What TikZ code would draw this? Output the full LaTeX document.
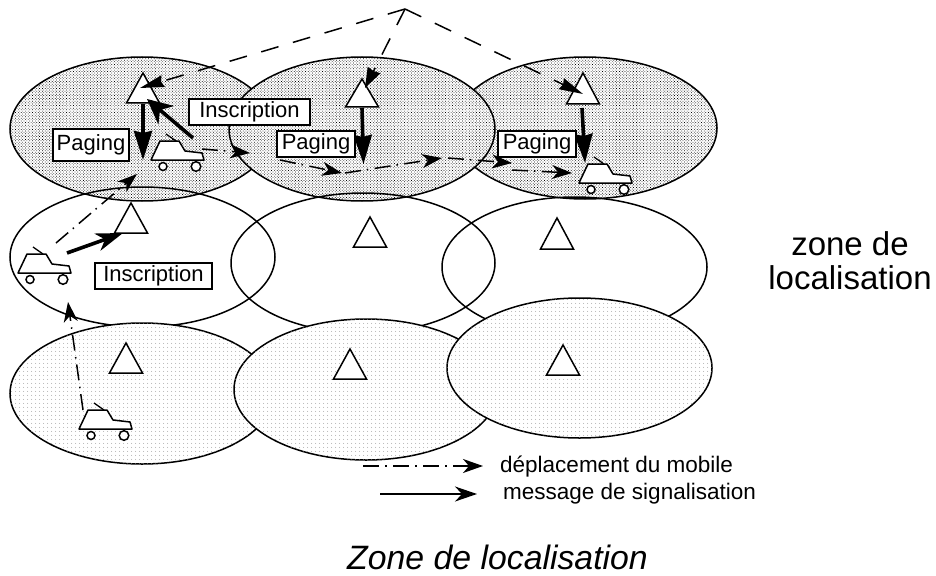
\documentclass[tikz,border=0pt]{standalone}
\usepackage{fontspec}
\setmainfont{Liberation Sans}
\usetikzlibrary{arrows.meta,patterns.meta}
\tikzset{
  cell/.style={draw=black,line width=1.5pt},
  heavyzone/.style={cell,fill=white,postaction={pattern={Dots[distance=2pt,radius=0.5pt,angle=45]},pattern color=black}},
  lightzone/.style={cell,fill=white,postaction={pattern={Dots[distance=4pt,radius=0.5pt]},pattern color=black!45}},
  antenna/.style={draw=black,line width=1.5pt,fill=white,line join=miter},
  labelbox/.style={draw=black,line width=1.5pt,fill=white,inner sep=0pt,font=\fontsize{22}{24}\selectfont,anchor=center},
  signal/.style={line width=3.6pt,-{Stealth[length=29pt,width=18pt,inset=2pt]}},
  signalbarbed/.style={line width=3.6pt,-{Stealth[length=25pt,width=24pt,inset=8pt]}},
  signalnarrow/.style={line width=3.6pt,-{Stealth[length=27pt,width=18pt,inset=8pt]}},
  move/.style={line width=1.5pt,dash pattern=on 16pt off 6pt on 1.5pt off 6.5pt,-{Stealth[length=20pt,width=14pt,inset=6pt]}},
  page/.style={line width=1.5pt,dash pattern=on 18pt off 15pt},
  legendtext/.style={anchor=base west,inner sep=0pt,font=\fontsize{22.5}{24}\selectfont},
  car/.pic={
    \draw[line width=1.5pt,fill=white,line join=round] (0,0)--(9,-19)--(28,-19)--(34,-9)--(51,-7)--(53,0)--cycle;
    \draw[line width=1.3pt] (15,-26)--(25,-19);
    \draw[line width=1.5pt,fill=white] (12,6.5) circle (4) (45,6.5) circle (4.8);
  }
}
\newcommand{\mast}[3]{\draw[antenna] (#1,#2)--(#1-16.5,#2+#3)--(#1+16.5,#2+#3)--cycle;}
\begin{document}
\begin{tikzpicture}[x=1pt,y=-1pt]
\useasboundingbox (0,0) rectangle (936,575);
% top row
\draw[heavyzone] (142,129) ellipse [x radius=132,y radius=72];
\draw[heavyzone] (585,128) ellipse [x radius=132,y radius=71];
\draw[heavyzone] (362,129) ellipse [x radius=133,y radius=72];
% middle row
\draw[cell] (142.5,257) ellipse [x radius=132.5,y radius=70];
\draw[cell] (363,263) ellipse [x radius=132,y radius=70];
\draw[cell] (574.5,267) ellipse [x radius=132.5,y radius=70];
% bottom row
\draw[lightzone] (142,393.5) ellipse [x radius=132,y radius=70.5];
\draw[lightzone] (366,389.5) ellipse [x radius=132,y radius=70.5];
\draw[lightzone] (579.5,368) ellipse [x radius=132.5,y radius=70];
% antennas
\mast{143}{73}{30}
\mast{362}{79}{28}
\mast{583}{73}{31}
\mast{131}{203}{30}
\mast{370}{217}{30}
\mast{557}{218}{31}
\mast{126}{343}{30}
\mast{350}{349}{30}
\mast{563}{345}{30}
% mobiles
\pic at (151,160) {car};
\pic at (579,183) {car};
\pic at (18,273) {car};
\pic at (79,429) {car};
% named ends
\coordinate (hub) at (405,9);
\coordinate (a1) at (140,88);
\coordinate (a2) at (365,88);
\coordinate (a3) at (583,94);
% paging broadcast
\draw[page,-{Stealth[length=24pt,width=12pt,inset=2pt]}] (hub)--(a1);
\draw[page,-{Stealth[length=20pt,width=14pt,inset=1pt]}] (hub)--(a2);
\draw[page,-{Stealth[length=24pt,width=12pt,inset=2pt]}] (hub)--(a3);
% signalling
\coordinate (s1) at (143,104);
\coordinate (s2) at (143,160);
\coordinate (s3) at (362,108);
\coordinate (s4) at (363.5,164);
\coordinate (s5) at (582,108);
\coordinate (s6) at (585,163);
\coordinate (s7) at (193,138);
\coordinate (s8) at (147,99);
\coordinate (s9) at (67,253);
\coordinate (s10) at (123,233);
\draw[signal] (s1)--(s2);
\draw[signal] (s3)--(s4);
\draw[signal] (s5)--(s6);
\draw[signalbarbed] (s7)--(s8);
\draw[signalnarrow] (s9)--(s10);
% mobile movement
\coordinate (m1) at (202,149);
\coordinate (m2) at (250,153);
\coordinate (m2b) at (280,160);
\coordinate (m3) at (342,173);
\coordinate (m3b) at (345,173);
\coordinate (m4) at (442,158);
\coordinate (m4b) at (448,158);
\coordinate (m5) at (512,163);
\coordinate (m6) at (512,170);
\coordinate (m7) at (572,173);
\coordinate (n1) at (83,410);
\coordinate (n2) at (68,302);
\coordinate (n3) at (56,243);
\coordinate (n4) at (137,174);
\draw[move] (n1)--(n2);
\draw[move] (n3)--(n4);
\draw[move] (m1)--(m2);
\draw[move] (m2b)--(m3);
\draw[move] (m3b)--(m4);
\draw[move] (m4b)--(m5);
\draw[move] (m6)--(m7);
% label boxes
\node[labelbox,minimum width=76pt,minimum height=32pt] (pag1) at (91,145) {Paging};
\node[labelbox,minimum width=121pt,minimum height=26pt] (ins1) at (249.5,112) {Inscription};
\node[labelbox,minimum width=78pt,minimum height=26pt] (pag2) at (316,144) {Paging};
\node[labelbox,minimum width=78pt,minimum height=26pt] (pag3) at (537,144) {Paging};
\node[labelbox,minimum width=117pt,minimum height=26pt] (ins2) at (153.5,276) {Inscription};
% legend
\coordinate (l1) at (363,466);
\coordinate (l2) at (483,466);
\coordinate (l3) at (380,494);
\coordinate (l4) at (477,494);
\draw[move] (l1)--(l2);
\draw[line width=1.5pt,-{Stealth[length=22pt,width=15pt,inset=7pt]}] (l3)--(l4);
\node[legendtext] (leg1) at (500,472) {déplacement du mobile};
\node[legendtext] (leg2) at (503,499) {message de signalisation};
% captions
\node[font=\fontsize{33}{34}\selectfont,inner sep=0pt,anchor=base] (zone1) at (850,255) {zone de};
\node[font=\fontsize{33}{34}\selectfont,inner sep=0pt,anchor=base] (zone2) at (850,289) {localisation};
\node[font=\fontsize{33.8}{36}\selectfont\itshape,inner sep=0pt,anchor=base] (title) at (497.5,569) {Zone de localisation};
\end{tikzpicture}
\end{document}
